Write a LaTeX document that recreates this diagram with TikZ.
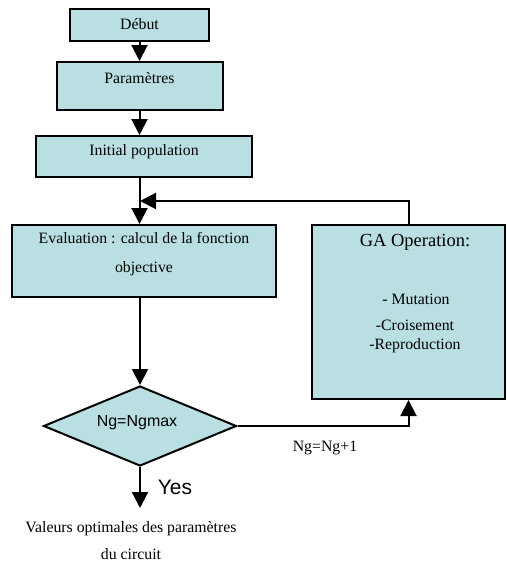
\documentclass[tikz,border=0pt]{standalone}
\usepackage{fontspec}
\setmainfont{Liberation Serif}
\setsansfont{Liberation Sans}
\usetikzlibrary{arrows.meta,shapes.geometric}
\definecolor{boxfill}{RGB}{185,223,226}
\begin{document}
\begin{tikzpicture}[x=1pt,y=-1pt,
  box/.style={draw=black,line width=2pt,fill=boxfill,inner sep=0pt},
  txt/.style={inner sep=0pt,font=\fontsize{15.8}{18}\selectfont},
  flow/.style={draw=black,line width=2pt,-{Triangle[length=16pt,width=16pt]}}]
\useasboundingbox (0,0) rectangle (507,563);
% boxes
\node[box,minimum width=139pt,minimum height=32pt] (debut) at (139.5,25) {};
\node[box,minimum width=166pt,minimum height=48pt] (param) at (139.5,86) {};
\node[box,minimum width=216pt,minimum height=41pt] (init) at (144,156.5) {};
\node[box,minimum width=264pt,minimum height=72pt] (eval) at (144,261) {};
\node[box,minimum width=193pt,minimum height=174pt] (ga) at (408.5,312) {};
\node[box,shape=diamond,minimum width=193pt,minimum height=80pt] (dia) at (140,426) {};
% texts
\node[txt] (tdebut) at (139.5,24) {Début};
\node[txt] (tparam) at (139.5,78) {Paramètres};
\node[txt] (tinit) at (144,152) {Initial population};
\node[txt,align=center,font=\fontsize{15.8}{29}\selectfont] (teval) at (144,254.5) {Evaluation : calcul de la fonction\\objective};
\node[txt,font=\fontsize{18.5}{21}\selectfont] (tga) at (415,242) {GA Operation:};
\node[txt] (tmut) at (416,299) {- Mutation};
\node[txt,align=center,font=\fontsize{15.8}{19}\selectfont] (tcr) at (415,336.5) {-Croisement\\-Reproduction};
\node[txt,font=\sffamily\fontsize{16}{19}\selectfont] (tdia) at (137,423) {Ng=Ngmax};
\node[txt] (tinc) at (325,448) {Ng=Ng+1};
\node[txt,font=\sffamily\fontsize{21}{24}\selectfont] (tyes) at (175,487) {Yes};
\node[txt,align=center,font=\fontsize{15.8}{27}\selectfont] (tval) at (131,540.5) {Valeurs optimales des paramètres\\du circuit};
% connectors
\coordinate (loopend) at (140,201);
\coordinate (yesend) at (140,508);
\draw[flow] (debut.south) -- (param.north);
\draw[flow] (param.south) -- (init.north -| param.north);
\draw[flow] (init.south -| debut.south) -- (eval.north -| debut.south);
\draw[flow] (ga.north) |- (loopend);
\draw[flow] (eval.south -| dia.north) -- (dia.north);
\draw[flow] (dia.east) -| (ga.south);
\draw[flow] (dia.south) -- (yesend);
\end{tikzpicture}
\end{document}
